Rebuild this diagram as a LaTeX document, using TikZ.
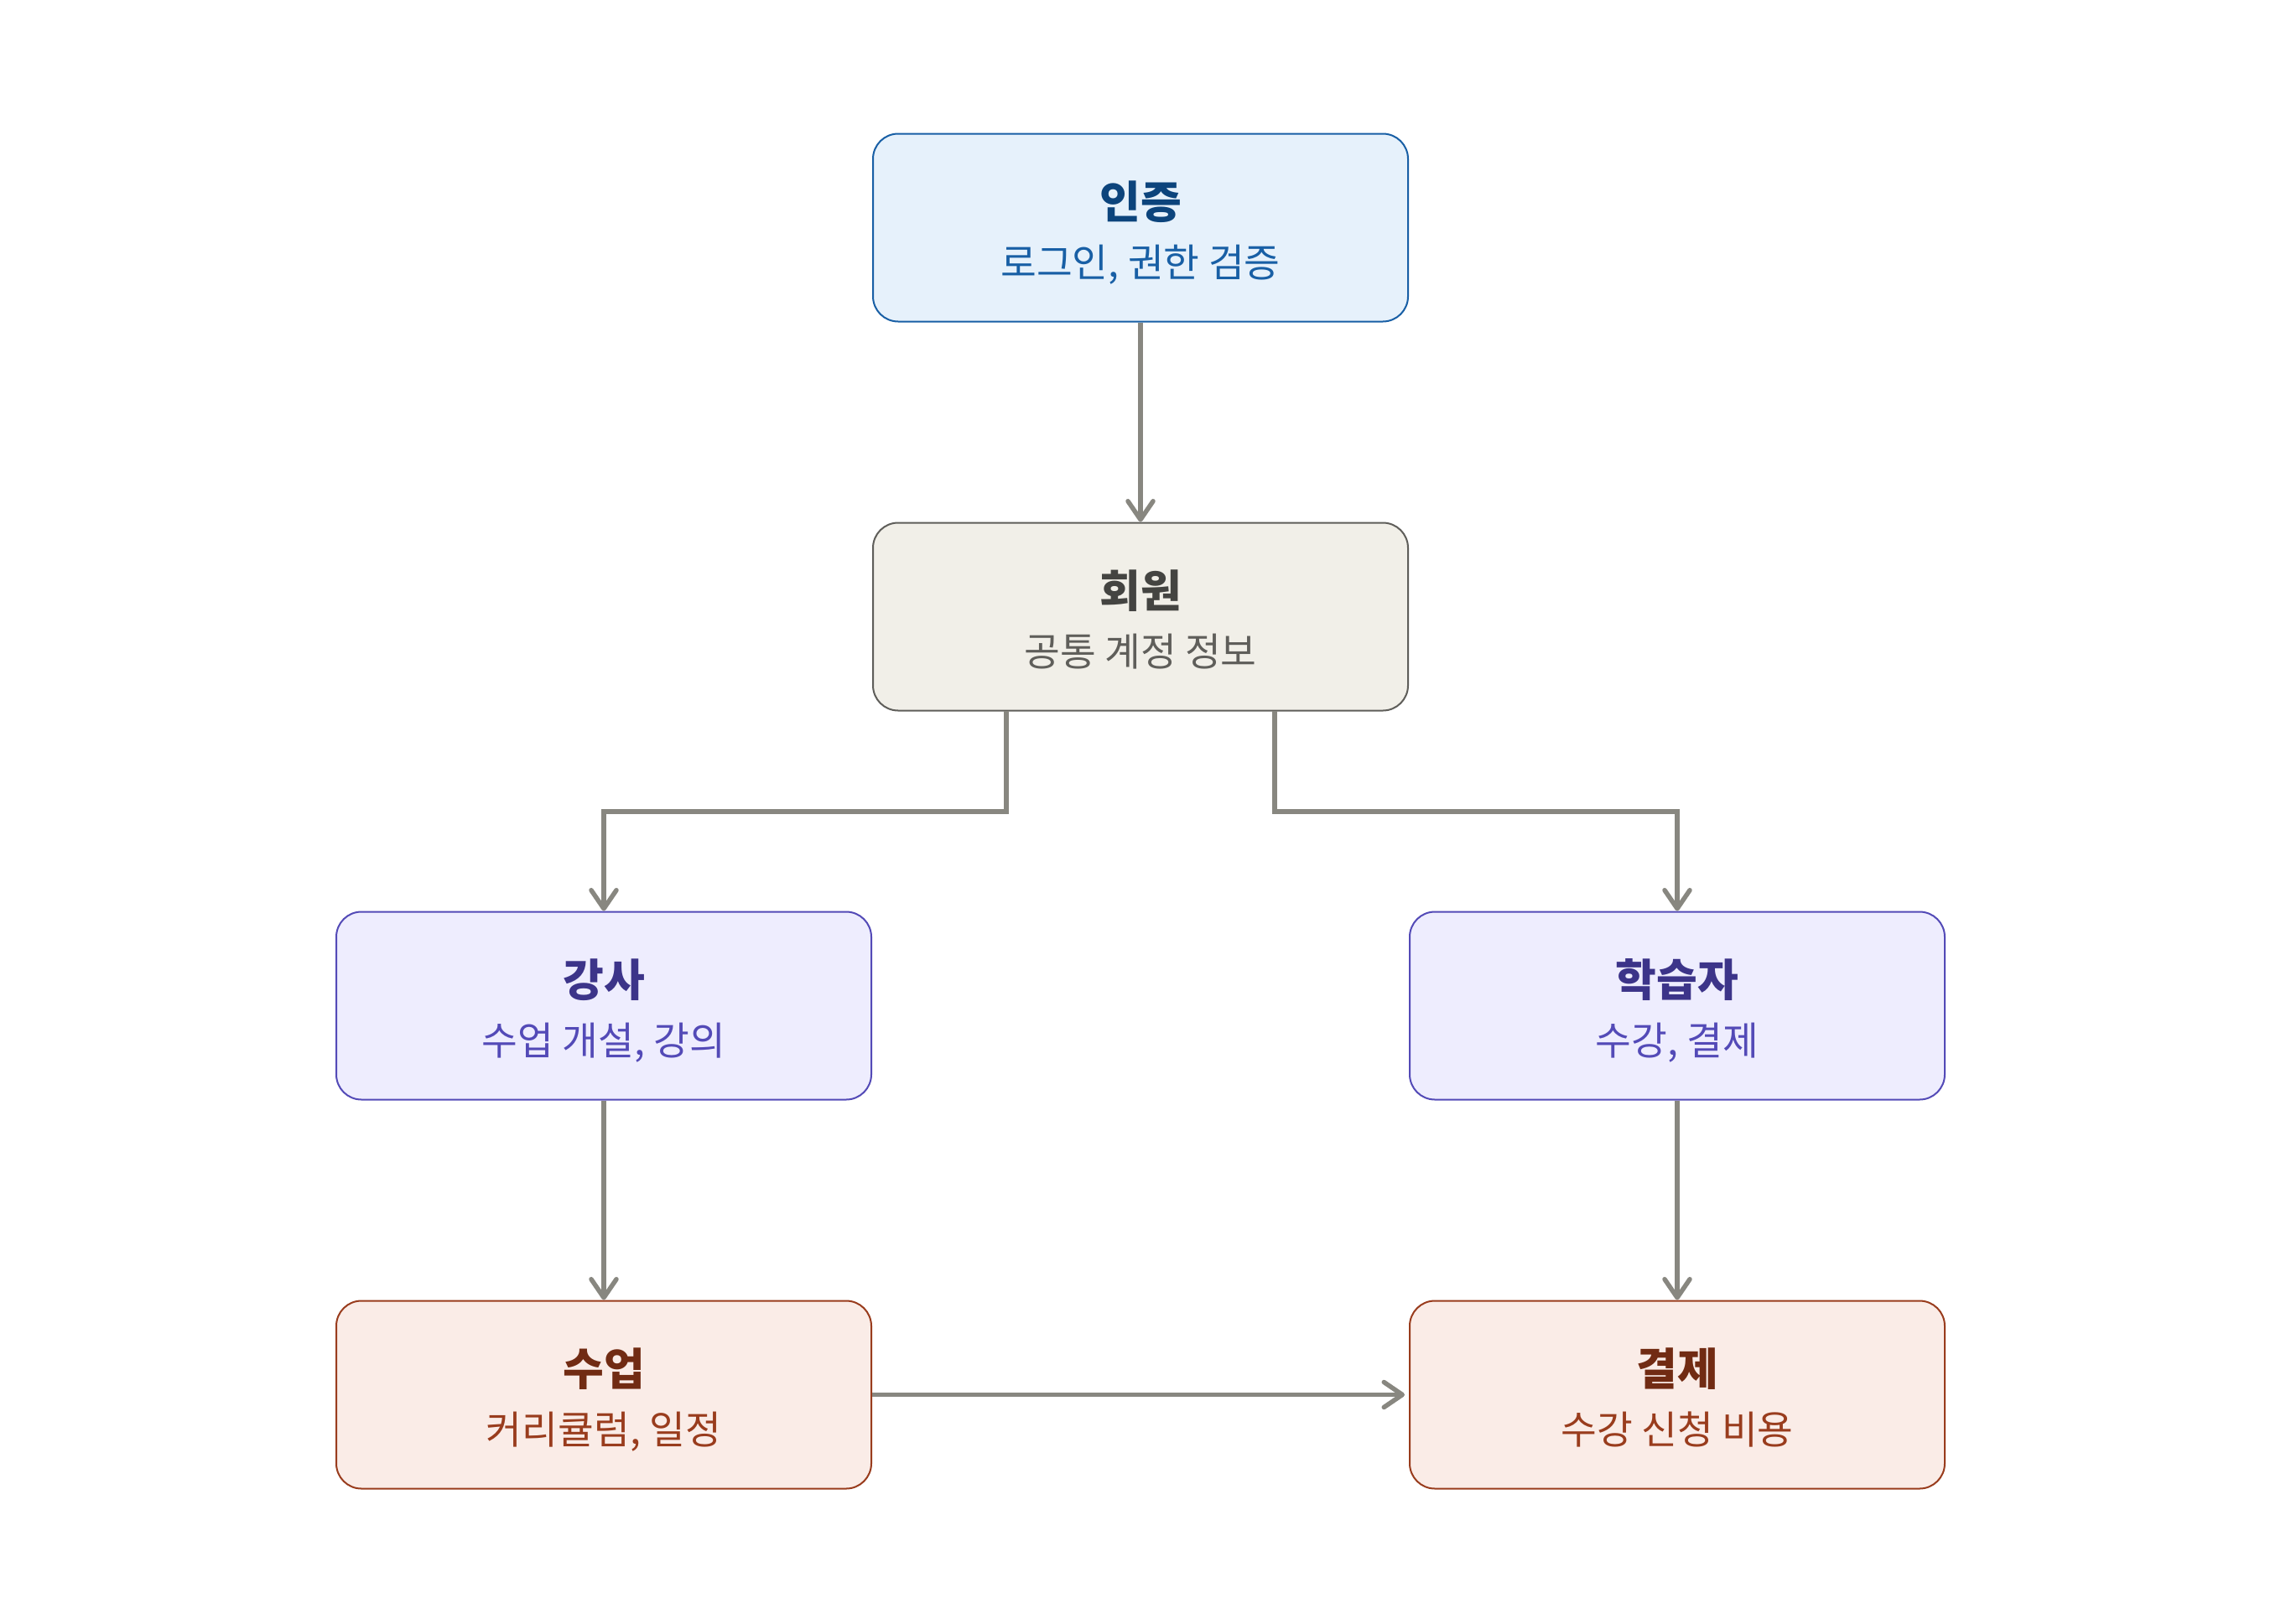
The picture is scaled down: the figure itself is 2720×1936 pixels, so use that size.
\documentclass[tikz,border=0pt]{standalone}
\usepackage{fontspec}
\setmainfont{Noto Sans CJK KR}
\usetikzlibrary{arrows.meta}
\definecolor{arrowc}{HTML}{888780}
\definecolor{authfill}{HTML}{E6F1FB}
\definecolor{authdraw}{HTML}{185FA5}
\definecolor{authtitle}{HTML}{0C447C}
\definecolor{authsub}{HTML}{185FA5}
\definecolor{memfill}{HTML}{F1EFE8}
\definecolor{memdraw}{HTML}{5F5E5A}
\definecolor{memtitle}{HTML}{444441}
\definecolor{memsub}{HTML}{5F5E5A}
\definecolor{purfill}{HTML}{EEEDFE}
\definecolor{purdraw}{HTML}{534AB7}
\definecolor{purtitle}{HTML}{3C3489}
\definecolor{pursub}{HTML}{534AB7}
\definecolor{redfill}{HTML}{FAECE7}
\definecolor{reddraw}{HTML}{993C1D}
\definecolor{redtitle}{HTML}{712B13}
\definecolor{redsub}{HTML}{993C1D}
\tikzset{
  box/.style={draw, line width=2pt, rounded corners=30pt, minimum width=638pt, minimum height=224pt, inner sep=0pt},
  ttl/.style={anchor=base, inner sep=0pt, font=\fontsize{53pt}{58pt}\selectfont\bfseries},
  sub/.style={anchor=base, inner sep=0pt, font=\fontsize{46.5pt}{52pt}\selectfont},
  conn/.style={draw=arrowc, line width=5.5pt, -{Straight Barb[length=22pt,width=30pt,line cap=round,line join=round]}}
}
\begin{document}
\begin{tikzpicture}[x=1pt,y=-1pt]
\fill[white] (0,0) rectangle (2720,1936);
\useasboundingbox (0,0) rectangle (2720,1936);
% boxes
\node[box, draw=authdraw, fill=authfill] (auth) at (1360,271.5) {};
\node[box, draw=memdraw, fill=memfill] (mem) at (1360,735.5) {};
\node[box, draw=purdraw, fill=purfill] (inst) at (720,1199.5) {};
\node[box, draw=purdraw, fill=purfill] (learn) at (2000,1199.5) {};
\node[box, draw=reddraw, fill=redfill] (cls) at (720,1663.5) {};
\node[box, draw=reddraw, fill=redfill] (pay) at (2000,1663.5) {};
% texts
\node[ttl, text=authtitle] (authT) at ([yshift=11pt]auth.center) {인증};
\node[sub, text=authsub] (authS) at ([yshift=-59pt]auth.center) {로그인, 권한 검증};
\node[ttl, text=memtitle] (memT) at ([yshift=11pt]mem.center) {회원};
\node[sub, text=memsub] (memS) at ([yshift=-59pt]mem.center) {공통 계정 정보};
\node[ttl, text=purtitle] (instT) at ([yshift=11pt]inst.center) {강사};
\node[sub, text=pursub] (instS) at ([yshift=-59pt]inst.center) {수업 개설, 강의};
\node[ttl, text=purtitle] (learnT) at ([yshift=11pt]learn.center) {학습자};
\node[sub, text=pursub] (learnS) at ([yshift=-59pt]learn.center) {수강, 결제};
\node[ttl, text=redtitle] (clsT) at ([yshift=11pt]cls.center) {수업};
\node[sub, text=redsub] (clsS) at ([yshift=-59pt]cls.center) {커리큘럼, 일정};
\node[ttl, text=redtitle] (payT) at ([yshift=11pt]pay.center) {결제};
\node[sub, text=redsub] (payS) at ([yshift=-59pt]pay.center) {수강 신청 비용};
% connectors
\coordinate (mL) at (1200,847.5);
\coordinate (mR) at (1520,847.5);
\draw[conn] (auth.south) -- (mem.north);
\draw[conn, line join=miter] (mL) -- (1200,968) -| (inst.north);
\draw[conn, line join=miter] (mR) -- (1520,968) -| (learn.north);
\draw[conn] (inst.south) -- (cls.north);
\draw[conn] (learn.south) -- (pay.north);
\draw[conn, shorten >=5pt] (cls.east) -- (pay.west);
\end{tikzpicture}
\end{document}
